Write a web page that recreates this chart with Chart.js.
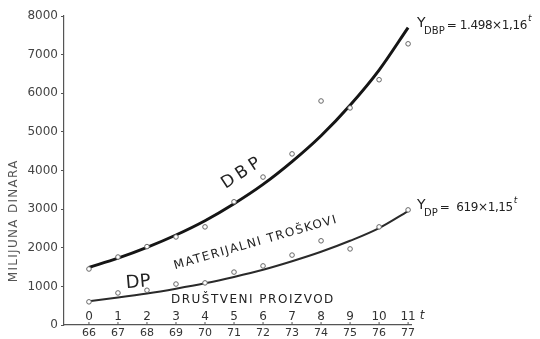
<!DOCTYPE html>
<html><head><meta charset="utf-8">
<script src="https://cdn.jsdelivr.net/npm/chart.js@4.4.1/dist/chart.umd.min.js"></script>
<style>html,body{margin:0;padding:0;background:#fff;}#wrap{width:540px;height:339px;}</style>
</head><body><div id="wrap"><canvas id="c" width="540" height="339"></canvas></div>
<script>
// ---- data ----
const periods = [0, 1, 2, 3, 4, 5, 6, 7, 8, 9, 10, 11];           // t
const years = ['66', '67', '68', '69', '70', '71', '72', '73', '74', '75', '76', '77'];
const yTicks = [0, 1000, 2000, 3000, 4000, 5000, 6000, 7000, 8000];
const dbpObserved = [1450, 1760, 2030, 2280, 2540, 3190, 3830, 4430, 5800, 5620, 6350, 7280];
const dpObserved  = [600, 830, 900, 1060, 1090, 1370, 1530, 1810, 2180, 1970, 2540, 2980];
const dbpTrend = [1490, 1730, 2010, 2330, 2700, 3140, 3640, 4230, 4900, 5690, 6600, 7700];
const dpTrend  = [615, 710, 815, 940, 1080, 1245, 1430, 1650, 1895, 2180, 2510, 2950];

const pts = arr => periods.map((t, i) => ({ x: t, y: arr[i] }));
const INK = '#2a2a2a';
const FONT = '"DejaVu Sans", sans-serif';

const overlay = {
  id: 'overlay',
  afterDraw(chart) {
    const { ctx, scales: { x, y } } = chart;
    const y0 = y.getPixelForValue(0);
    ctx.save();
    ctx.fillStyle = '#333';
    ctx.strokeStyle = '#555';
    ctx.lineWidth = 1;
    // upper period labels and ticks
    ctx.font = '12px ' + FONT;
    ctx.textAlign = 'center';
    ctx.textBaseline = 'alphabetic';
    periods.forEach(t => {
      const px = x.getPixelForValue(t);
      ctx.beginPath(); ctx.moveTo(px, y0); ctx.lineTo(px, y0 - 3); ctx.stroke();
      ctx.fillText(String(t), px, y0 - 5);
    });
    ctx.font = 'italic 12px ' + FONT;
    ctx.fillText('t', x.getPixelForValue(11) + 14, y0 - 6);

    // axis title
    ctx.save();
    ctx.translate(14, y.getPixelForValue(2700));
    ctx.rotate(-Math.PI / 2);
    ctx.font = '12px ' + FONT;
    ctx.letterSpacing = '1.3px';
    ctx.textAlign = 'center';
    ctx.textBaseline = 'middle';
    ctx.fillStyle = '#555';
    ctx.fillText('MILIJUNA DINARA', 0, 0);
    ctx.restore();

    const rotText = (txt, cx, cy, ang, font, spacing) => {
      ctx.save();
      ctx.translate(cx, cy);
      ctx.rotate(ang * Math.PI / 180);
      ctx.font = font;
      ctx.letterSpacing = spacing;
      ctx.textAlign = 'center';
      ctx.textBaseline = 'middle';
      ctx.fillText(txt, 0, 0);
      ctx.restore();
    };
    ctx.fillStyle = '#222';
    rotText('DBP', x.getPixelForValue(5.3), y.getPixelForValue(3950), -33, '17px ' + FONT, '4px');
    rotText('MATERIJALNI TROŠKOVI', x.getPixelForValue(5.75), y.getPixelForValue(2130), -16, '12px ' + FONT, '1.5px');
    rotText('DP', x.getPixelForValue(1.7), y.getPixelForValue(1100), -5, '18px ' + FONT, '0px');
    rotText('DRUŠTVENI PROIZVOD', x.getPixelForValue(5.65), y.getPixelForValue(650), 0, '12px ' + FONT, '1.5px');

    // formulas
    const fx = x.getPixelForValue(11) + 9;
    const drawFormula = (sub, rest, baseVal) => {
      const by = y.getPixelForValue(baseVal);
      ctx.textAlign = 'left';
      ctx.textBaseline = 'alphabetic';
      ctx.letterSpacing = '0px';
      ctx.font = '14px ' + FONT;
      ctx.fillText('Y', fx, by);
      ctx.font = '10px ' + FONT;
      ctx.fillText(sub, fx + 7, by + 7);
      const w = ctx.measureText(sub).width;
      ctx.font = '12px ' + FONT;
      ctx.letterSpacing = '-0.4px';
      ctx.fillText(rest, fx + 9 + w, by + 2);
      const w2 = ctx.measureText(rest).width;
      ctx.letterSpacing = '0px';
      ctx.font = 'italic 9px ' + FONT;
      ctx.fillText('t', fx + 10 + w + w2, by - 6);
    };
    drawFormula('DBP', '= 1.498×1,16', 7720);
    drawFormula('DP', '=  619×1,15', 3000);
    ctx.restore();
  }
};

new Chart(document.getElementById('c'), {
  type: 'line',
  data: {
    datasets: [
      { data: pts(dbpObserved), showLine: false, pointRadius: 2.3, pointBorderWidth: 1,
        pointBorderColor: '#666', pointBackgroundColor: '#fff', order: 0 },
      { data: pts(dpObserved), showLine: false, pointRadius: 2.3, pointBorderWidth: 1,
        pointBorderColor: '#666', pointBackgroundColor: '#fff', order: 0 },
      { data: pts(dbpTrend), borderColor: '#151515', borderWidth: 3, pointRadius: 0,
        cubicInterpolationMode: 'monotone', order: 1 },
      { data: pts(dpTrend), borderColor: INK, borderWidth: 2, pointRadius: 0,
        cubicInterpolationMode: 'monotone', order: 1 }
    ]
  },
  options: {
    responsive: false,
    animation: false,
    devicePixelRatio: 1,
    layout: { padding: { left: 0, right: 129, top: 16, bottom: 0 } },
    plugins: { legend: { display: false }, tooltip: { enabled: false } },
    scales: {
      x: {
        type: 'linear', min: -0.86, max: 11.1,
        afterBuildTicks: s => { s.ticks = periods.map(v => ({ value: v })); },
        afterFit: s => { s.height = 14; },
        ticks: { callback: v => years[periods.indexOf(v)], font: { size: 11, family: FONT },
                 color: '#333', padding: 2, maxRotation: 0, autoSkip: false },
        grid: { drawOnChartArea: false, drawTicks: false },
        border: { color: '#555', width: 1.2 }
      },
      y: {
        min: 0, max: 8000,
        afterBuildTicks: s => { s.ticks = yTicks.map(v => ({ value: v })); },
        afterFit: s => { s.width = 64; },
        ticks: { callback: v => String(v), font: { size: 12, family: FONT }, color: '#444', padding: 3 },
        grid: { drawOnChartArea: false, tickLength: 3, color: '#555' },
        border: { color: '#555', width: 1.2 }
      }
    }
  },
  plugins: [overlay]
});
</script>
</body></html>
